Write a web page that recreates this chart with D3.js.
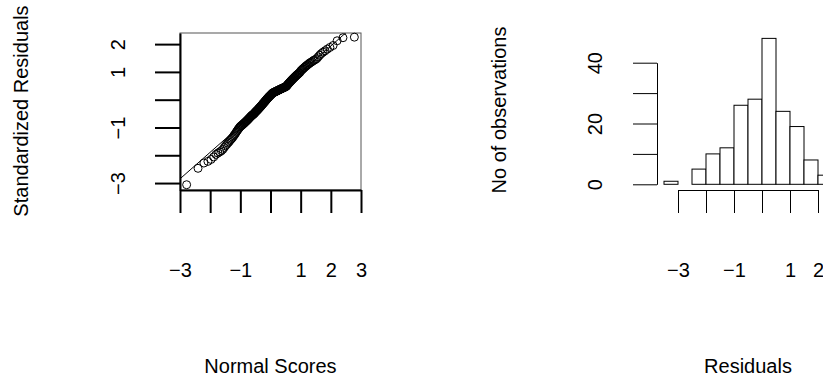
<!DOCTYPE html>
<html>
<head>
<meta charset="utf-8">
<title>Residual diagnostics</title>
<style>
body { margin:0; background:#fff; }
svg text { font-family: "Liberation Sans", Arial, Helvetica, sans-serif; font-size:20px; fill:#000; }
.qq .domain, .qq .tick line { stroke:#000; stroke-width:2px; }
.hist .domain, .hist .tick line { stroke:#000; stroke-width:1px; }
.box { fill:none; stroke:#555; stroke-width:1px; }
.pt { fill:none; stroke:#000; stroke-width:1px; }
.bar { fill:#fff; stroke:#000; stroke-width:1px; }
</style>
</head>
<body>
<div id="chart"></div>
<script src="https://cdn.jsdelivr.net/npm/d3@7"></script>
<script>

// standardized residuals (grouped by histogram bin)
var residuals = [
	-3.06,
	-2.47, -2.28, -2.22, -2.15, -2.06,
	-1.97, -1.92, -1.88, -1.84, -1.79, -1.72, -1.66, -1.61, -1.56, -1.52,
	-1.47, -1.43, -1.39, -1.35, -1.30, -1.26, -1.22, -1.17, -1.13, -1.09, -1.05, -1.02,
	-0.98, -0.96, -0.94, -0.92, -0.90, -0.88, -0.86, -0.84, -0.82, -0.80, -0.78, -0.76, -0.74,
	-0.72, -0.70, -0.68, -0.66, -0.64, -0.62, -0.60, -0.58, -0.57, -0.55, -0.54, -0.52, -0.51,
	-0.49, -0.47, -0.45, -0.43, -0.42, -0.40, -0.38, -0.37, -0.35, -0.33, -0.31, -0.30, -0.28, -0.26,
	-0.24, -0.23, -0.21, -0.19, -0.17, -0.15, -0.13, -0.12, -0.10, -0.08, -0.06, -0.05, -0.03, -0.01,
	0.01, 0.03, 0.04, 0.06, 0.08, 0.09, 0.11, 0.12, 0.14, 0.15, 0.17, 0.18, 0.20, 0.21, 0.23, 0.24,
	0.25, 0.26, 0.26, 0.27, 0.28, 0.29, 0.29, 0.30, 0.31, 0.32, 0.32, 0.33, 0.34, 0.35, 0.35, 0.36,
	0.37, 0.38, 0.38, 0.39, 0.40, 0.41, 0.41, 0.42, 0.43, 0.44, 0.44, 0.45, 0.46, 0.47, 0.48, 0.49,
	0.52, 0.54, 0.56, 0.58, 0.60, 0.62, 0.64, 0.66, 0.68, 0.70, 0.72, 0.74,
	0.76, 0.78, 0.80, 0.82, 0.84, 0.86, 0.88, 0.90, 0.92, 0.94, 0.96, 0.98,
	1.02, 1.05, 1.07, 1.10, 1.12, 1.15, 1.17, 1.20, 1.22, 1.25, 1.27, 1.30, 1.32, 1.35, 1.37, 1.40, 1.42, 1.45, 1.48,
	1.54, 1.60, 1.66, 1.71, 1.76, 1.82, 1.88, 1.95,
	2.12, 2.23, 2.25
];

var binBreaks = [-3.5, -3, -2.5, -2, -1.5, -1, -0.5, 0, 0.5, 1, 1.5, 2, 2.5];

var qqTicksX = [-3, -2, -1, 0, 1, 2, 3],   qqLabelsX = [-3, -1, 1, 2, 3];
var qqTicksY = [-3, -2, -1, 0, 1, 2],      qqLabelsY = [-3, -1, 1, 2];
var histTicksX = [-3, -2, -1, 0, 1, 2],    histLabelsX = [-3, -1, 1, 2];
var histTicksY = [0, 10, 20, 30, 40],      histLabelsY = [0, 20, 40];

var width = 823, height = 376;

// inverse normal cdf (Acklam)
function qnorm(p){
	var a=[-3.969683028665376e+01,2.209460984245205e+02,-2.759285104469687e+02,1.383577518672690e+02,-3.066479806614716e+01,2.506628277459239e+00];
	var b=[-5.447609879822406e+01,1.615858368580409e+02,-1.556989798598866e+02,6.680131188771972e+01,-1.328068155288572e+01];
	var c=[-7.784894002430293e-03,-3.223964580411365e-01,-2.400758277161838e+00,-2.549732539343734e+00,4.374664141464968e+00,2.938163982698783e+00];
	var d=[7.784695709041462e-03,3.224671290700398e-01,2.445134137142996e+00,3.754408661907416e+00];
	var pl = 0.02425, q, r;
	if (p < pl) {
		q = Math.sqrt(-2*Math.log(p));
		return (((((c[0]*q+c[1])*q+c[2])*q+c[3])*q+c[4])*q+c[5])/((((d[0]*q+d[1])*q+d[2])*q+d[3])*q+1);
	}
	if (p > 1-pl) {
		q = Math.sqrt(-2*Math.log(1-p));
		return -(((((c[0]*q+c[1])*q+c[2])*q+c[3])*q+c[4])*q+c[5])/((((d[0]*q+d[1])*q+d[2])*q+d[3])*q+1);
	}
	q = p-0.5; r = q*q;
	return (((((a[0]*r+a[1])*r+a[2])*r+a[3])*r+a[4])*r+a[5])*q/(((((b[0]*r+b[1])*r+b[2])*r+b[3])*r+b[4])*r+1);
}

var fmt = d3.format("d");
function labelIf(list){ return function(d){ return list.indexOf(d) != -1 ? fmt(d) : ""; }; }

var svg = d3.select("#chart").append("svg")
	.attr("width", width)
	.attr("height", height);

//Normal QQ plot

var sorted = residuals.slice().sort(d3.ascending);
var n = sorted.length;
var qqData = sorted.map(function(v, i){ return {x: qnorm((i+0.5)/n), y: v}; });

var x = d3.scaleLinear().domain([-3, 3]).range([180, 361]);
var y = d3.scaleLinear().domain([-3.25, 2.4]).range([190, 33]);

var qq = svg.append("g").attr("class", "qq");

qq.append("clipPath").attr("id", "qqclip")
	.append("rect")
	.attr("x", x.range()[0]).attr("y", y.range()[1])
	.attr("width", x.range()[1]-x.range()[0])
	.attr("height", y.range()[0]-y.range()[1]);

qq.append("rect")
	.attr("class", "box")
	.attr("x", x.range()[0]).attr("y", y.range()[1])
	.attr("width", x.range()[1]-x.range()[0])
	.attr("height", y.range()[0]-y.range()[1]);

// qqline through the quartiles
var y1 = d3.quantile(sorted, 0.25), y3 = d3.quantile(sorted, 0.75);
var x1 = qnorm(0.25), x3 = qnorm(0.75);
var slope = (y3-y1)/(x3-x1), icpt = y1 - slope*x1;

qq.append("line")
	.attr("clip-path", "url(#qqclip)")
	.attr("x1", x(-4)).attr("y1", y(icpt + slope*-4))
	.attr("x2", x(4)).attr("y2", y(icpt + slope*4))
	.attr("stroke", "#000")
	.attr("stroke-width", 1);

qq.selectAll(".pt")
	.data(qqData)
	.enter().append("circle")
	.attr("class", "pt")
	.attr("cx", function(d){ return x(d.x); })
	.attr("cy", function(d){ return y(d.y); })
	.attr("r", 4);

var qqX = qq.append("g")
	.attr("transform", "translate(0," + y.range()[0] + ")")
	.call(d3.axisBottom(x).tickValues(qqTicksX).tickSize(23).tickSizeOuter(0).tickFormat(labelIf(qqLabelsX)));

qqX.selectAll("text").attr("y", 87).attr("dy", 0);

var qqY = qq.append("g")
	.attr("transform", "translate(" + x.range()[0] + ",0)")
	.call(d3.axisLeft(y).tickValues(qqTicksY).tickSize(25).tickSizeOuter(0).tickFormat(labelIf(qqLabelsY)));

qqY.selectAll("text")
	.attr("x", 0).attr("dy", 0)
	.attr("text-anchor", "middle")
	.attr("transform", "translate(-55,0) rotate(-90)");

qq.append("text")
	.attr("x", 270.5).attr("y", 373)
	.attr("text-anchor", "middle")
	.text("Normal Scores");

qq.append("text")
	.attr("text-anchor", "middle")
	.attr("transform", "translate(28,111) rotate(-90)")
	.text("Standardized Residuals");

//Histogram

var bins = d3.bin().domain([binBreaks[0], binBreaks[binBreaks.length-1]]).thresholds(binBreaks.slice(1, -1))(residuals);

var hx = d3.scaleLinear().domain([-3, 2]).range([678, 818]);
var hy = d3.scaleLinear().domain([0, 40]).range([184.3, 62.7]);

var hist = svg.append("g").attr("class", "hist");

hist.selectAll(".bar")
	.data(bins)
	.enter().append("rect")
	.attr("class", "bar")
	.attr("x", function(d){ return hx(d.x0); })
	.attr("y", function(d){ return hy(d.length); })
	.attr("width", function(d){ return hx(d.x1) - hx(d.x0); })
	.attr("height", function(d){ return hy(0) - hy(d.length); });

var hX = hist.append("g")
	.attr("transform", "translate(0,190)")
	.call(d3.axisBottom(hx).tickValues(histTicksX).tickSize(23).tickSizeOuter(0).tickFormat(labelIf(histLabelsX)));

hX.selectAll("text").attr("y", 87).attr("dy", 0);

var hY = hist.append("g")
	.attr("transform", "translate(" + hx(-3.75) + ",0)")
	.call(d3.axisLeft(hy).tickValues(histTicksY).tickSize(24).tickSizeOuter(0).tickFormat(labelIf(histLabelsY)));

hY.selectAll("text")
	.attr("x", 0).attr("dy", 0)
	.attr("text-anchor", "middle")
	.attr("transform", "translate(-55,0) rotate(-90)");

svg.selectAll(".domain").attr("fill", "none");
svg.selectAll(".tick text").attr("font-size", 20).attr("font-family", null);

hist.append("text")
	.attr("x", 748).attr("y", 373)
	.attr("text-anchor", "middle")
	.text("Residuals");

hist.append("text")
	.attr("text-anchor", "middle")
	.attr("transform", "translate(506,110) rotate(-90)")
	.text("No of observations");

</script>
</body>
</html>
